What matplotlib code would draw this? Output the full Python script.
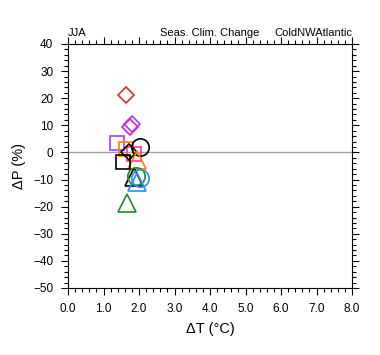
import matplotlib
matplotlib.use("Agg")
import matplotlib.pyplot as plt
from matplotlib.ticker import MultipleLocator, FormatStrFormatter

plt.rcParams['font.family'] = ['Liberation Sans', 'DejaVu Sans']

# data
dT = [1.63, 1.79, 1.75, 1.39, 1.64, 1.87, 2.04, 1.71, 1.94, 1.54, 1.87, 1.91, 2.03, 1.93, 1.65]
dP = [21.2, 10.4, 9.5, 3.3, 1.2, -0.6, 2.1, 0.0, -2.8, -3.5, -9.0, -8.7, -9.6, -10.8, -18.6]
markers = ['D', 'D', 'D', 's', 's', 's', 'o', 'D', '^', 's', '^', 'o', 'o', '^', '^']
colors = ['#c83232', '#a040ff', '#e020c0', '#a040ff', '#ff8000', '#ff3399', '#000000', '#000000',
          '#ff8000', '#000000', '#000000', '#228b22', '#1e90ff', '#1e90ff', '#228b22']
sizes = {'D': 8.5, 's': 10, 'o': 12.5, '^': 12.5}

xticks = [0, 1, 2, 3, 4, 5, 6, 7, 8]
yticks = [40, 30, 20, 10, 0, -10, -20, -30, -40, -50]

fig = plt.figure(figsize=(3.8, 3.55), dpi=100)
ax = fig.add_axes([68/380, 1-288/355, (352-68)/380, (288-44)/355])

ax.axhline(0, color='#a0a0a0', lw=1.0, zorder=1)
for x, y, m, c in zip(dT, dP, markers, colors):
    ax.plot([x], [y], marker=m, ms=sizes[m], mfc='none', mec=c, mew=1.2, ls='none', zorder=3)

ax.set_xlim(0, 8)
ax.set_ylim(-50, 40)
ax.set_xticks(xticks)
ax.set_yticks(yticks)
ax.xaxis.set_major_formatter(FormatStrFormatter('%.1f'))
ax.xaxis.set_minor_locator(MultipleLocator(0.2))
ax.yaxis.set_minor_locator(MultipleLocator(2))
ax.tick_params(which='both', direction='out', top=True, right=True, labelsize=8.5, width=0.8)
ax.tick_params(which='major', length=5, pad=5.5)
ax.tick_params(which='minor', length=2.8)
for s in ax.spines.values():
    s.set_linewidth(0.8)

ax.set_xlabel('ΔT (°C)', fontsize=10.5, labelpad=5)
ax.set_ylabel('ΔP (%)', fontsize=10.5, labelpad=5.5)
ax.set_title('JJA', loc='left', fontsize=8, pad=6)
ax.set_title('Seas. Clim. Change', loc='center', fontsize=8, pad=6)
ax.set_title('ColdNWAtlantic', loc='right', fontsize=8, pad=6)

fig.savefig('out.png', dpi=100)
